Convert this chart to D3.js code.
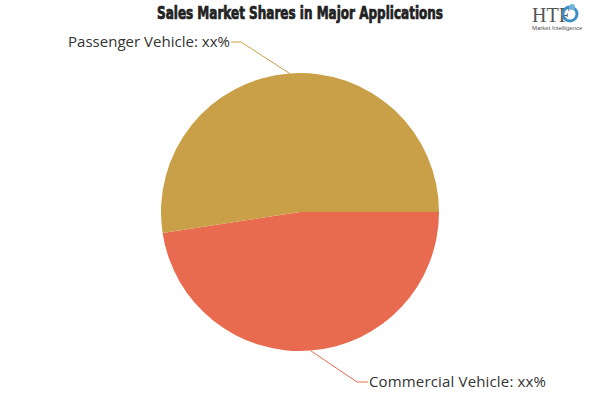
<!DOCTYPE html>
<html><head><meta charset="utf-8">
<script src="https://cdn.jsdelivr.net/npm/d3@7"></script>
<style>body{margin:0;background:#fff}</style>
</head><body>
<svg id="c" width="600" height="400"></svg>
<script>
const categories = ["Commercial Vehicle", "Passenger Vehicle"];
const values = [47.6, 52.4];
const labels = ["Commercial Vehicle: xx%", "Passenger Vehicle: xx%"];
const colors = ["#e86a4f", "#c9a047"];

const svg = d3.select("#c");
const cx = 300, cy = 212, r = 139;

svg.append("text").attr("x", 300).attr("y", 19).attr("text-anchor", "middle")
  .attr("font-family", "'Liberation Sans Narrow','DejaVu Sans Condensed',sans-serif")
  .attr("font-weight", "bold").attr("font-size", 17).attr("fill", "#222")
  .attr("stroke", "#222").attr("stroke-width", 0.7)
  .attr("textLength", 286).attr("lengthAdjust", "spacingAndGlyphs")
  .text("Sales Market Shares in Major Applications");

// logo
const lg = svg.append("g").attr("transform", "translate(530,0)");
lg.append("text").attr("x", 2).attr("y", 22).attr("font-family", "'Liberation Serif',serif")
  .attr("font-size", 20).attr("fill", "#555").text("HTF");
lg.append("circle").attr("cx", 40).attr("cy", 14).attr("r", 7).attr("fill", "none")
  .attr("stroke", "#3d8fc4").attr("stroke-width", 3);
lg.append("circle").attr("cx", 42).attr("cy", 7).attr("r", 3).attr("fill", "#6fb3de");
lg.append("text").attr("x", 2).attr("y", 30).attr("font-family", "'Liberation Sans',sans-serif")
  .attr("font-size", 6).attr("fill", "#555").text("Market Intelligence");

const pie = d3.pie().sort(null).value(d => d).startAngle(Math.PI / 2).endAngle(Math.PI / 2 + 2 * Math.PI);
const arcs = pie(values);
const arc = d3.arc().innerRadius(0).outerRadius(r);

const g = svg.append("g").attr("transform", `translate(${cx},${cy})`);
g.selectAll("path").data(arcs).enter().append("path")
  .attr("d", arc).attr("fill", (d, i) => colors[i]);

// leader lines and labels
const labelPos = [
  { elbow: [357, 382], end: [368, 382], anchor: "start", w: 177 },
  { elbow: [241, 42], end: [231, 42], anchor: "end", w: 162 }
];
arcs.forEach((a, i) => {
  const m = (a.startAngle + a.endAngle) / 2;
  const p0 = [cx + r * Math.sin(m), cy - r * Math.cos(m)];
  const lp = labelPos[i];
  svg.append("polyline")
    .attr("points", [p0, lp.elbow, lp.end].map(p => p.join(",")).join(" "))
    .attr("fill", "none").attr("stroke", colors[i]).attr("stroke-width", 1);
  svg.append("text").attr("x", lp.anchor === "start" ? lp.end[0] + 1 : lp.end[0] - 1)
    .attr("y", lp.end[1]).attr("dy", "0.35em").attr("text-anchor", lp.anchor)
    .attr("font-family", "'Open Sans','DejaVu Sans',sans-serif").attr("font-size", 15)
    .attr("textLength", lp.w).attr("lengthAdjust", "spacing")
    .attr("fill", "#333").text(labels[i]);
});
</script>
</body></html>
